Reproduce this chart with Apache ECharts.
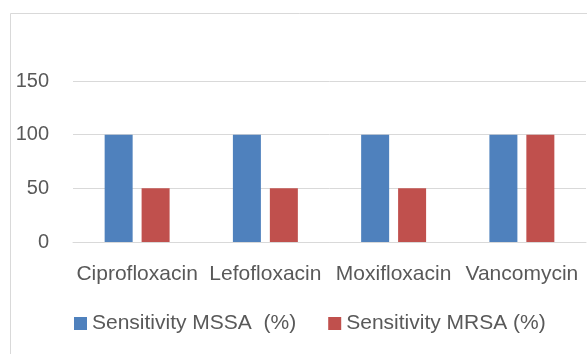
<!DOCTYPE html>
<html>
<head>
<meta charset="utf-8">
<script src="https://cdn.jsdelivr.net/npm/echarts@6/dist/echarts.min.js"></script>
<style>
  html, body { margin: 0; padding: 0; background: #fff; }
  #chart { width: 587px; height: 354px; }
</style>
</head>
<body>
<div id="chart"></div>
<script>
const categories = ["Ciprofloxacin", "Lefofloxacin", "Moxifloxacin", "Vancomycin"];
const mssa = [100, 100, 100, 100];
const mrsa = [50, 50, 50, 100];
const seriesNames = ["Sensitivity MSSA  (%)", "Sensitivity MRSA (%)"];

const font = "Liberation Sans";
const chart = echarts.init(document.getElementById("chart"));
chart.setOption({
  backgroundColor: "#fff",
  animation: false,
  graphic: [
    {
      type: "rect",
      shape: { x: 10.5, y: 13.5, width: 700, height: 400 },
      style: { fill: "none", stroke: "#d9d9d9", lineWidth: 1 },
      silent: true
    }
  ],
  grid: { left: 73, right: 1, top: 81, bottom: 112 },
  legend: {
    left: 69,
    top: 308,
    itemWidth: 13,
    itemHeight: 13,
    itemGap: 32,
    icon: "rect",
    textStyle: { color: "#595959", fontSize: 21, fontFamily: font }
  },
  xAxis: {
    type: "category",
    data: categories,
    axisLine: { lineStyle: { color: "#d9d9d9", width: 1 } },
    axisTick: { show: false },
    axisLabel: { color: "#595959", fontSize: 21, fontFamily: font, margin: 22, interval: 0 }
  },
  yAxis: {
    type: "value",
    min: 0,
    max: 150,
    interval: 50,
    axisLine: { show: false },
    axisTick: { show: false },
    axisLabel: { color: "#595959", fontSize: 20, fontFamily: font, margin: 24 },
    splitLine: { lineStyle: { color: "#d9d9d9", width: 1 } }
  },
  series: [
    {
      name: seriesNames[0],
      type: "bar",
      data: mssa,
      barWidth: 28,
      barGap: "32%",
      itemStyle: { color: "#4f81bd" }
    },
    {
      name: seriesNames[1],
      type: "bar",
      data: mrsa,
      barWidth: 28,
      itemStyle: { color: "#c0504d" }
    }
  ]
});
</script>
</body>
</html>
